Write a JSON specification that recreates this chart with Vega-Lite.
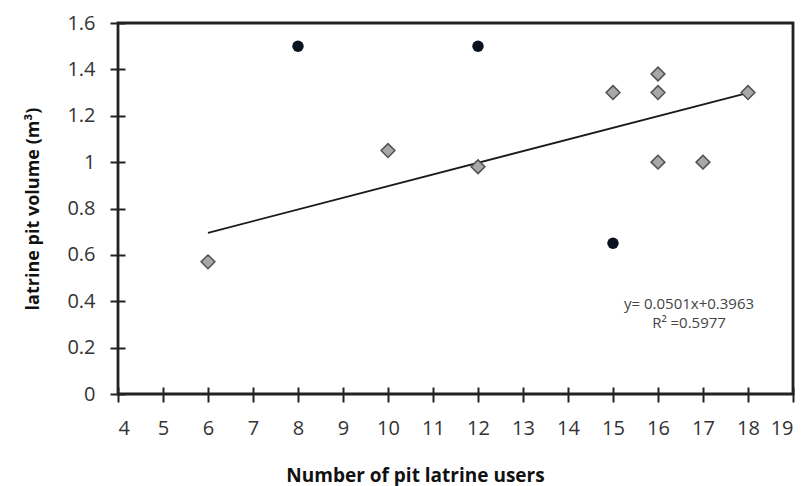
{
  "$schema": "https://vega.github.io/schema/vega-lite/v6.json",
  "width": 675,
  "height": 371,
  "autosize": {"type": "none"},
  "padding": {"left": 118, "top": 23, "right": 13, "bottom": 92},
  "background": "white",
  "config": {
    "view": {"stroke": "#222222", "strokeWidth": 2.8},
    "font": "Open Sans"
  },
  "datasets": {
    "pts": [
      {"users": 6, "volume": 0.57, "group": "diamond"},
      {"users": 10, "volume": 1.05, "group": "diamond"},
      {"users": 12, "volume": 0.98, "group": "diamond"},
      {"users": 15, "volume": 1.3, "group": "diamond"},
      {"users": 16, "volume": 1.38, "group": "diamond"},
      {"users": 16, "volume": 1.3, "group": "diamond"},
      {"users": 16, "volume": 1.0, "group": "diamond"},
      {"users": 17, "volume": 1.0, "group": "diamond"},
      {"users": 18, "volume": 1.3, "group": "diamond"},
      {"users": 8, "volume": 1.5, "group": "circle"},
      {"users": 12, "volume": 1.5, "group": "circle"},
      {"users": 15, "volume": 0.65, "group": "circle"}
    ],
    "notes": [
      {"users": 16.69, "volume": 0.39, "label": "y= 0.0501x+0.3963"},
      {"users": 16.69, "volume": 0.305, "label": "R² =0.5977"}
    ]
  },
  "encoding": {
    "x": {
      "field": "users",
      "type": "quantitative",
      "scale": {"domain": [4, 19], "nice": false, "zero": false},
      "axis": {
        "title": "Number of pit latrine users",
        "values": [4, 5, 6, 7, 8, 9, 10, 11, 12, 13, 14, 15, 16, 17, 18, 19],
        "domain": false,
        "grid": false,
        "offset": -7,
        "tickSize": 15,
        "tickColor": "#222222",
        "tickWidth": 2,
        "labelPadding": 16,
        "labelFontSize": 20,
        "labelColor": "#333333",
        "titleFontSize": 19,
        "titleFontWeight": "bold",
        "titleColor": "#111111",
        "titlePadding": 28,
        "titleX": 297,
        "titleAnchor": "middle"
      }
    },
    "y": {
      "field": "volume",
      "type": "quantitative",
      "scale": {"domain": [0, 1.6], "nice": false},
      "axis": {
        "title": "latrine pit volume (m³)",
        "values": [0, 0.2, 0.4, 0.6, 0.8, 1, 1.2, 1.4, 1.6],
        "format": "~g",
        "domain": false,
        "grid": false,
        "offset": -7,
        "tickSize": 15,
        "tickColor": "#222222",
        "tickWidth": 2,
        "labelPadding": 15,
        "labelFontSize": 20,
        "labelColor": "#333333",
        "titleFontSize": 18,
        "titleFontWeight": "bold",
        "titleColor": "#111111",
        "titlePadding": 24
      }
    }
  },
  "layer": [
    {
      "data": {"name": "pts"},
      "transform": [
        {"filter": "datum.group === 'diamond'"},
        {"regression": "volume", "on": "users"}
      ],
      "mark": {"type": "line", "color": "#1a1a1a", "strokeWidth": 1.8}
    },
    {
      "data": {"name": "pts"},
      "transform": [{"filter": "datum.group === 'diamond'"}],
      "mark": {"type": "point", "shape": "diamond", "size": 190, "filled": true, "fill": "#a8a8a8", "stroke": "#505050", "strokeWidth": 1.5, "opacity": 1}
    },
    {
      "data": {"name": "pts"},
      "transform": [{"filter": "datum.group === 'circle'"}],
      "mark": {"type": "point", "shape": "circle", "size": 130, "filled": true, "color": "#0b1220", "opacity": 1}
    },
    {
      "data": {"name": "notes"},
      "mark": {"type": "text", "fontSize": 15, "color": "#444444", "align": "center", "baseline": "middle"},
      "encoding": {"text": {"field": "label"}}
    }
  ]
}
